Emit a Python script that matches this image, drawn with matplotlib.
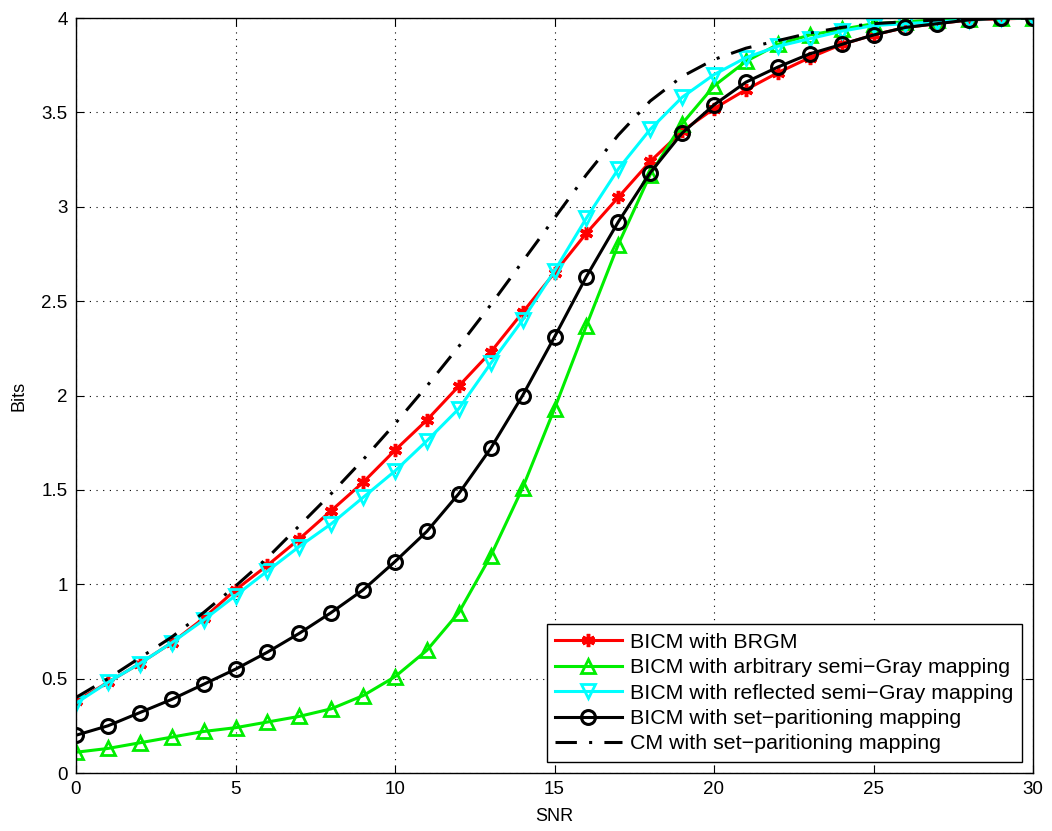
import matplotlib
matplotlib.use("Agg")
import matplotlib.pyplot as plt
import numpy as np

plt.rcParams['font.family'] = ['Liberation Sans', 'DejaVu Sans']

snr = list(range(0, 31))

brgm = [0.38, 0.48, 0.58, 0.69, 0.82, 0.97, 1.10, 1.24, 1.39, 1.54, 1.71, 1.87, 2.05, 2.23,
        2.44, 2.65, 2.86, 3.05, 3.24, 3.40, 3.52, 3.62, 3.71, 3.79, 3.86, 3.91, 3.95, 3.97,
        3.99, 3.995, 4.0]
arb_gray = [0.11, 0.13, 0.16, 0.19, 0.22, 0.24, 0.27, 0.30, 0.34, 0.41, 0.51, 0.65, 0.85, 1.15,
            1.51, 1.93, 2.37, 2.80, 3.17, 3.44, 3.64, 3.77, 3.86, 3.91, 3.94, 3.97, 3.98, 3.99,
            3.995, 4.0, 4.0]
refl_gray = [0.37, 0.48, 0.58, 0.69, 0.81, 0.94, 1.07, 1.20, 1.32, 1.46, 1.60, 1.76, 1.93, 2.17,
             2.40, 2.66, 2.94, 3.20, 3.41, 3.58, 3.70, 3.79, 3.85, 3.89, 3.93, 3.96, 3.97, 3.98,
             3.99, 4.0, 4.0]
set_part = [0.20, 0.25, 0.32, 0.39, 0.47, 0.55, 0.64, 0.74, 0.85, 0.97, 1.12, 1.28, 1.48, 1.72,
            2.00, 2.31, 2.63, 2.92, 3.18, 3.39, 3.54, 3.66, 3.74, 3.81, 3.86, 3.91, 3.95, 3.97,
            3.99, 4.0, 4.0]
cm_set_part = [0.40, 0.50, 0.61, 0.72, 0.85, 0.99, 1.14, 1.31, 1.48, 1.66, 1.85, 2.05, 2.26, 2.48,
               2.71, 2.94, 3.17, 3.38, 3.56, 3.69, 3.78, 3.84, 3.88, 3.92, 3.95, 3.97, 3.98, 3.99,
               3.995, 4.0, 4.0]

labels = ['BICM with BRGM', 'BICM with arbitrary semi\u2212Gray mapping',
          'BICM with reflected semi\u2212Gray mapping', 'BICM with set\u2212paritioning mapping',
          'CM with set\u2212paritioning mapping']

fig = plt.figure(figsize=(10.52, 8.31), dpi=100)
ax = fig.add_axes([76/1052, 58/831, (1033-76)/1052, (773-18)/831])

lw = 2.2
ax.plot(snr, brgm, color='#ff0000', lw=lw, marker=(6, 2, 0), ms=9.5, mew=2.5,
        mec='#ff0000', label=labels[0])
ax.plot(snr, arb_gray, color='#00ee00', lw=lw, marker='^', ms=10.5, mew=2.0, mfc='none',
        mec='#00ee00', label=labels[1])
ax.plot(snr, refl_gray, color='#00ffff', lw=lw, marker='v', ms=10.5, mew=2.0, mfc='none',
        mec='#00ffff', label=labels[2])
ax.plot(snr, set_part, color='black', lw=lw, marker='o', ms=10, mew=2.2, mfc='none',
        mec='black', label=labels[3])
ax.plot(snr, cm_set_part, color='black', lw=2.2, ls=(0, (7, 4, 1, 4)), label=labels[4])

ax.set_xlim(0, 30)
ax.set_ylim(0, 4)
ax.set_xticks(range(0, 31, 5))
ax.set_yticks(np.arange(0, 4.01, 0.5))
ax.set_yticklabels(['0', '0.5', '1', '1.5', '2', '2.5', '3', '3.5', '4'])
ax.grid(True, color='black', ls=(0, (1, 5)), lw=0.8)
ax.tick_params(direction='in', top=True, right=True, labelsize=13.5, length=6, pad=6)
for s in ax.spines.values():
    s.set_linewidth(1.0)
ax.set_xlabel('SNR', fontsize=13, labelpad=7)
ax.set_ylabel('Bits', fontsize=13, labelpad=10)

leg = ax.legend(loc='lower right', bbox_to_anchor=(0.9885, 0.0146), fontsize=15.4,
                frameon=True, fancybox=False, edgecolor='black', framealpha=1,
                handlelength=3.1, borderpad=0.4, labelspacing=0.3, handletextpad=0.4,
                borderaxespad=0)
leg.get_frame().set_linewidth(1.0)

fig.savefig('out.png', dpi=100)
